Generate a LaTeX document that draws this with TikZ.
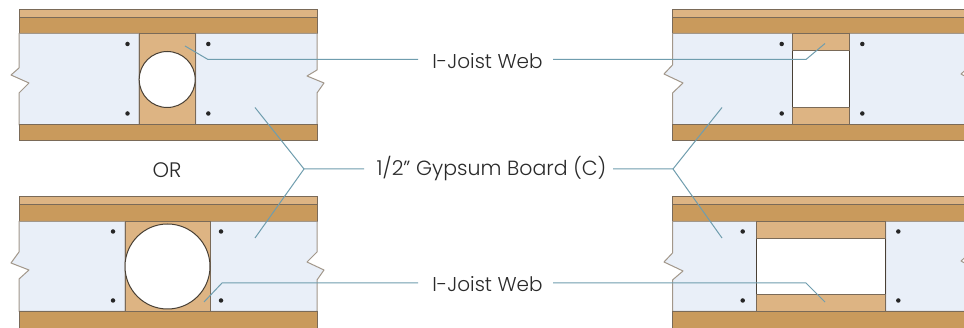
\documentclass[tikz,border=0pt]{standalone}
\usepackage{fontspec}
\setmainfont{Poppins Light}
\definecolor{gyp}{HTML}{E9EFF8}
\definecolor{flange}{HTML}{C99A5C}
\definecolor{webc}{HTML}{DDB483}
\definecolor{edge}{HTML}{7A6A58}
\definecolor{lead}{HTML}{6F9DAE}
\definecolor{txt}{HTML}{2A2A2A}
\tikzset{
  x=1pt,y=-1pt,
  board/.style={fill=gyp,draw=edge!70!white,line width=1pt,line join=round},
  flangebar/.style={fill=flange,draw=edge,line width=1pt},
  capbar/.style={fill=webc,draw=edge,line width=1pt},
  webbar/.style={fill=webc,draw=edge,line width=1pt},
  holeshape/.style={fill=white,draw=edge!60!black,line width=1pt},
  nail/.style={circle,fill=black!85,inner sep=0pt,minimum size=4.5pt},
  leader/.style={draw=lead,line width=1pt},
  lbl/.style={text=txt,font=\fontsize{20}{22}\selectfont,inner sep=0pt},
}
\begin{document}
\begin{tikzpicture}
\useasboundingbox (0,0) rectangle (964,328);
\fill[white] (0,0) rectangle (964,328);
% --- top left
\draw[capbar] (19,9.5) rectangle (317,17.5);
\draw[flangebar] (19,17.5) rectangle (317,33.5);
\draw[board] (19,33.5) -- (19,68) -- (11,75) -- (29,83) -- (19,93) -- (19,125) -- (139,125) -- (139,33.5) -- cycle;
\draw[board] (317,33.5) -- (317,70) -- (307,76) -- (324,83) -- (317,93) -- (317,125) -- (195.5,125) -- (195.5,33.5) -- cycle;
\draw[webbar] (139,33.5) rectangle (195.5,125);
\draw[flangebar] (19,125) rectangle (317,141);
\draw[holeshape] (167.2,79.5) circle (28);
\node[nail] (a1) at (127.5,44) {};
\node[nail] (a2) at (127.5,113.5) {};
\node[nail] (a3) at (208.3,44) {};
\node[nail] (a4) at (208.3,113.5) {};
% --- bottom left
\draw[capbar] (19,197) rectangle (317,205);
\draw[flangebar] (19,205) rectangle (317,221.5);
\draw[board] (19,221.5) -- (19,252) -- (11,263) -- (29,270) -- (19,279) -- (19,311.5) -- (125,311.5) -- (125,221.5) -- cycle;
\draw[board] (317,221.5) -- (317,252) -- (307,262) -- (324,270) -- (317,280) -- (317,311.5) -- (210,311.5) -- (210,221.5) -- cycle;
\draw[webbar] (125,221.5) rectangle (210,311.5);
\draw[flangebar] (19,311.5) rectangle (317,330);
\draw[holeshape] (167.5,266.5) circle (42.5);
\node[nail] (b1) at (113,231.5) {};
\node[nail] (b2) at (113,300.5) {};
\node[nail] (b3) at (221,231.5) {};
\node[nail] (b4) at (221,300.5) {};
% --- top right
\draw[capbar] (672.5,9.5) rectangle (970,17.5);
\draw[flangebar] (672.5,17.5) rectangle (970,33.5);
\draw[board] (672.5,33.5) -- (672.5,65) -- (664,74) -- (683,83) -- (672.5,93) -- (672.5,125) -- (792.5,125) -- (792.5,33.5) -- cycle;
\draw[board] (970,33.5) -- (970,66) -- (961,74) -- (970,79) -- (970,125) -- (849,125) -- (849,33.5) -- cycle;
\draw[holeshape] (792.5,33.5) rectangle (849,125);
\draw[webbar] (792.5,33.5) rectangle (849,51);
\draw[webbar] (792.5,107.5) rectangle (849,125);
\draw[flangebar] (672.5,125) rectangle (970,141);
\node[nail] (c1) at (781.7,44) {};
\node[nail] (c2) at (781.7,113.5) {};
\node[nail] (c3) at (862.3,44) {};
\node[nail] (c4) at (862.3,113.5) {};
% --- bottom right
\draw[capbar] (672.5,197) rectangle (970,205);
\draw[flangebar] (672.5,205) rectangle (970,221.5);
\draw[board] (672.5,221.5) -- (672.5,253) -- (664,262) -- (683,271) -- (672.5,280) -- (672.5,311.5) -- (756.7,311.5) -- (756.7,221.5) -- cycle;
\draw[board] (970,221.5) -- (970,253) -- (961,261) -- (970,266) -- (970,311.5) -- (885.7,311.5) -- (885.7,221.5) -- cycle;
\draw[holeshape] (756.7,221.5) rectangle (885.7,311.5);
\draw[webbar] (756.7,221.5) rectangle (885.7,238.5);
\draw[webbar] (756.7,294.5) rectangle (885.7,311.5);
\draw[flangebar] (672.5,311.5) rectangle (970,330);
\node[nail] (d1) at (742.7,231.5) {};
\node[nail] (d2) at (742.7,300.5) {};
\node[nail] (d3) at (898.3,231.5) {};
\node[nail] (d4) at (898.3,300.5) {};
% --- labels
\node[lbl] (web1) at (487.5,61) {I-Joist Web};
\node[lbl,font=\fontsize{20.5}{22}\selectfont] (gyp) at (491.5,168.5) {1/2" Gypsum Board (C)};
\node[lbl] (web2) at (487.5,284) {I-Joist Web};
\node[lbl,font=\fontsize{21}{22}\selectfont] (or) at (167,170) {OR};
% --- leader anchor points
\coordinate (w1l) at (418,59.5); \coordinate (w1r) at (553,59.5);
\coordinate (w2l) at (418,283);  \coordinate (w2r) at (553,283);
\coordinate (gl) at (364,169);   \coordinate (gr) at (613,169);
\coordinate (gjl) at (304,169);  \coordinate (gjr) at (673,169);
\draw[leader] (w1l) -- (208,59.5) -- (185,46);
\draw[leader] (w1r) -- (806,59.5) -- (825,43.5);
\draw[leader] (w2l) -- (222,283) -- (204,302);
\draw[leader] (w2r) -- (806,283) -- (825,302);
\draw[leader] (gl) -- (gjl) -- (255,107.5);
\draw[leader] (gjl) -- (255,238);
\draw[leader] (gr) -- (gjr) -- (722,107.5);
\draw[leader] (gjr) -- (722,238);
\end{tikzpicture}
\end{document}
